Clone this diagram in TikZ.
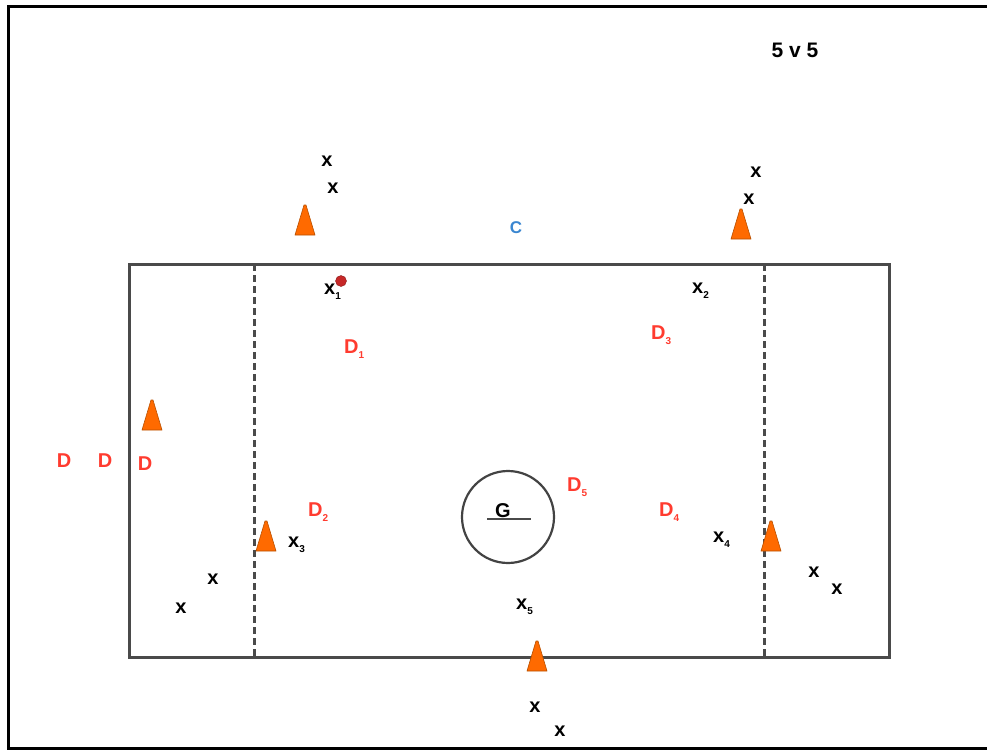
\documentclass[tikz,border=0pt]{standalone}
\usepackage{fontspec}
\setmainfont{Liberation Sans}
\definecolor{conefill}{HTML}{FF6A00}
\definecolor{coneline}{HTML}{B85000}
\definecolor{dred}{HTML}{FF3B2F}
\definecolor{cblue}{HTML}{3A86D0}
\definecolor{fieldgray}{HTML}{4A4A4A}
\definecolor{ballred}{HTML}{C62828}
\tikzset{
  lbl/.style={font=\fontsize{20}{20}\selectfont\bfseries, inner sep=0pt},
  xp/.style={lbl, text=black},
  dp/.style={lbl, text=dred},
  field/.style={draw=fieldgray, line width=3pt},
  divider/.style={draw=fieldgray, line width=3pt, dash pattern=on 7pt off 4pt},
  conestyle/.style={fill=conefill, draw=coneline, line width=0.6pt, line join=round}
}
\newcommand{\sbx}[1]{\raisebox{-0.45ex}{\fontsize{10}{10}\selectfont\bfseries #1}}
\newcommand{\cone}[3]{% name, x, y (apex)
  \coordinate (#1) at (#2,#3);
  \filldraw[conestyle] ([xshift=-1pt]#1) -- ([xshift=1pt]#1) -- ([xshift=10pt,yshift=-30pt]#1) -- ([xshift=-10pt,yshift=-30pt]#1) -- cycle;
}
\begin{document}
\begin{tikzpicture}[x=1pt,y=-1pt]
\useasboundingbox (0,0) rectangle (987,750);
% outer frame
\coordinate (fTR) at (987,6);
\coordinate (fTL) at (8,6);
\coordinate (fBL) at (8,748);
\coordinate (fBR) at (987,748);
\draw[line width=3pt, black] (fTR) -- (fTL) -- (fBL) -- (fBR);
% field
\coordinate (a) at (129,264);
\coordinate (b) at (889,657);
\draw[field] (a) rectangle (b);
\coordinate (l1t) at (254,264);
\coordinate (l1b) at (254,657);
\coordinate (l2t) at (764,264);
\coordinate (l2b) at (764,657);
\draw[divider] (l1t) -- (l1b);
\draw[divider] (l2t) -- (l2b);
% crease
\node[circle, draw=fieldgray!90!black, line width=2.2pt, minimum size=92pt, inner sep=0pt] (crease) at (508,517) {};
\coordinate (gl) at (487,519);
\coordinate (gr) at (531,519);
\draw[line width=2.8pt, fieldgray] (gl) -- (gr);
\node[lbl, text=black, anchor=south] (G) at (503,518) {G};
% cones
\cone{c1}{305}{205}
\cone{c2}{741}{209}
\cone{c3}{152}{400}
\cone{c4}{266}{521}
\cone{c5}{771}{521}
\cone{c6}{537}{641}
% title
\node[lbl, font=\fontsize{21}{21}\selectfont\bfseries] (title) at (795,50) {5 v 5};
\node[lbl, text=cblue, font=\fontsize{17}{17}\selectfont\bfseries] (C) at (516,228) {C};
% offence outside
\node[xp] (o1) at (327,161) {x};
\node[xp] (o2) at (333,188) {x};
\node[xp] (o3) at (756,172) {x};
\node[xp] (o4) at (749,199) {x};
\node[xp] (o5) at (213,579) {x};
\node[xp] (o6) at (181,608) {x};
\node[xp] (o7) at (814,572) {x};
\node[xp] (o8) at (837,589) {x};
\node[xp] (o9) at (535,707) {x};
\node[xp] (o10) at (560,731) {x};
% offence on field
\node[xp, anchor=west] (x1) at (324,292) {x\sbx{1}};
\node[circle, fill=ballred, draw=ballred!70!black, line width=0.4pt, minimum size=11pt, inner sep=0pt] (ball) at (341,281) {};
\node[xp, anchor=west] (x2) at (692,291) {x\sbx{2}};
\node[xp, anchor=west] (x3) at (288,545) {x\sbx{3}};
\node[xp, anchor=west] (x4) at (713,540) {x\sbx{4}};
\node[xp, anchor=west] (x5) at (516,607) {x\sbx{5}};
% defence
\node[dp, anchor=west] (d1) at (344,349) {D\sbx{1}};
\node[dp, anchor=west] (d2) at (308,512) {D\sbx{2}};
\node[dp, anchor=west] (d3) at (651,335) {D\sbx{3}};
\node[dp, anchor=west] (d4) at (659,512) {D\sbx{4}};
\node[dp, anchor=west] (d5) at (567,487) {D\sbx{5}};
\node[dp] (dA) at (64,461) {D};
\node[dp] (dB) at (105,461) {D};
\node[dp] (dC) at (145,464) {D};
\end{tikzpicture}
\end{document}
